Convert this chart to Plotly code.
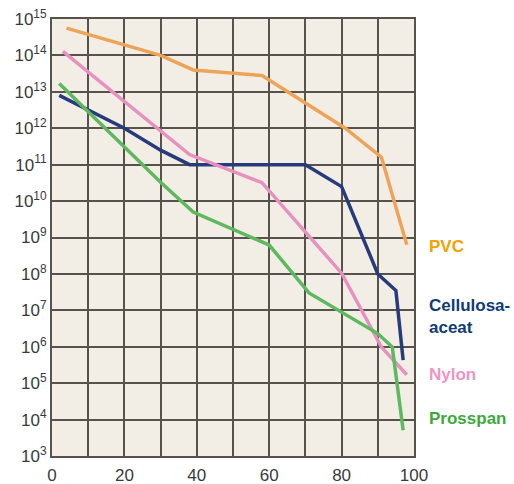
import plotly.graph_objects as go

# Data (x: percent, y: resistivity)
pvc_x = [4, 30, 39, 58, 81, 91, 98]
pvc_y = [5.6e14, 1.0e14, 4.0e13, 2.8e13, 1.0e12, 1.6e11, 6.3e8]

cell_x = [2, 20, 30, 38, 70, 80, 90, 95, 97]
cell_y = [8.0e12, 1.0e12, 2.5e11, 1.0e11, 1.0e11, 2.5e10, 1.0e8, 3.5e7, 4.3e5]

nylon_x = [3, 30, 38, 58, 80, 91, 98]
nylon_y = [1.3e14, 8.0e11, 1.9e11, 3.2e10, 1.05e8, 9.8e5, 1.7e5]

pros_x = [2, 30, 39, 60, 71, 80, 90, 94, 97]
pros_y = [1.7e13, 3.3e10, 5.0e9, 6.2e8, 3.0e7, 9.0e6, 2.3e6, 9.8e5, 5.1e3]

y_exponents = list(range(3, 16))
x_grid = list(range(0, 101, 10))
x_labels = ["0", "", "20", "", "40", "", "60", "", "80", "", "100"]

series = [
    ("PVC", pvc_x, pvc_y, "#eea458"),
    ("Cellulosa-aceat", cell_x, cell_y, "#273b7c"),
    ("Nylon", nylon_x, nylon_y, "#e691c0"),
    ("Prosspan", pros_x, pros_y, "#5db85f"),
]

fig = go.Figure()
for name, xs, ys, col in series:
    fig.add_trace(go.Scatter(x=xs, y=ys, mode="lines", name=name,
                             line=dict(color=col, width=3.5), showlegend=False))

labels = [
    ("PVC", 8.74, "#f5a100"),
    ("Cellulosa-", 7.12, "#0f3b7a"),
    ("aceat", 6.52, "#0f3b7a"),
    ("Nylon", 5.25, "#ef94c5"),
    ("Prosspan", 4.02, "#3da93a"),
]
for txt, ly, col in labels:
    fig.add_annotation(x=1.035, xref="paper", y=ly, yref="y", text="<b>%s</b>" % txt,
                       showarrow=False, xanchor="left", yanchor="middle",
                       font=dict(family="Liberation Sans, Arial", size=17, color=col))

grid_col = "#57524c"
tick_font = dict(family="Liberation Sans, Arial", size=17, color="#3a3a3a")
fig.update_layout(
    width=514, height=484,
    margin=dict(l=52, r=100, t=19, b=28, autoexpand=False),
    paper_bgcolor="white",
    plot_bgcolor="#f3eee5",
    font=dict(family="Liberation Sans, Arial", size=14, color="#3a3a3a"),
)
fig.update_xaxes(
    range=[0, 100], tickvals=x_grid, ticktext=x_labels,
    showgrid=True, gridcolor=grid_col, gridwidth=2,
    showline=True, linecolor=grid_col, linewidth=2, mirror=True,
    zeroline=False, ticks="", ticklen=0, ticklabelstandoff=3,
    tickfont=tick_font, automargin=False,
)
fig.update_yaxes(
    type="log", range=[3, 15],
    tickvals=[10 ** e for e in y_exponents],
    ticktext=["10<sup>%d</sup>" % e for e in y_exponents],
    showgrid=True, gridcolor=grid_col, gridwidth=2,
    showline=True, linecolor=grid_col, linewidth=2, mirror=True,
    zeroline=False, ticks="", ticklen=0,
    tickfont=tick_font, automargin=False,
)
fig.write_html("out.html")
